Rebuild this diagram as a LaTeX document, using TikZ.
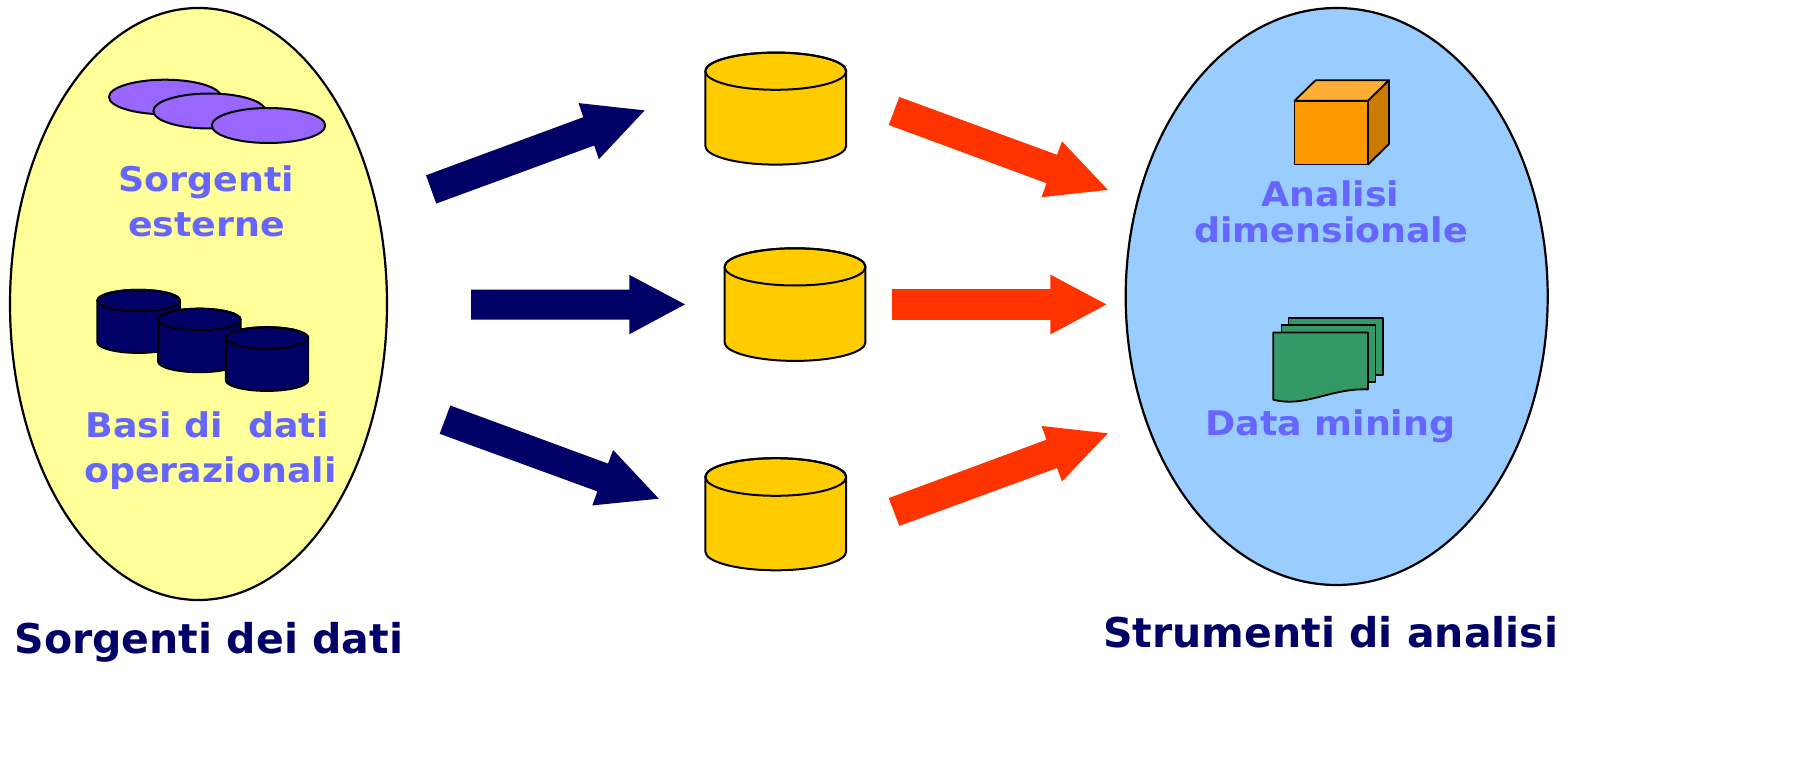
\documentclass[tikz,border=0pt]{standalone}
\usepackage{fontspec}
\setmainfont{DejaVu Sans}
\newfontfamily\lblfont{DejaVu Sans}[FakeStretch=1.07]
\usetikzlibrary{shapes.geometric}
\definecolor{paleyellow}{HTML}{FFFF99}
\definecolor{paleblue}{HTML}{99CCFF}
\definecolor{lilac}{HTML}{9966FF}
\definecolor{navy}{HTML}{000066}
\definecolor{lbl}{HTML}{6666FF}
\definecolor{gold}{HTML}{FFCC00}
\definecolor{redorange}{HTML}{FF3300}
\definecolor{cubefront}{HTML}{FF9900}
\definecolor{cubetop}{HTML}{FFAD33}
\definecolor{cubeside}{HTML}{CC7A00}
\definecolor{docgreen}{HTML}{339966}
\newcommand{\cylshape}[6]{% cx, top cy, bottom cy, rx, ry, colour
  \filldraw[fill=#6] ({#1-#4},#2) -- ({#1-#4},#3)
    arc[start angle=180,end angle=0,x radius=#4,y radius=#5]
    -- ({#1+#4},#2)
    arc[start angle=0,end angle=-180,x radius=#4,y radius=#5] -- cycle;
  \draw ({#1},#2) ellipse[x radius=#4,y radius=#5];
}
\begin{document}
\begin{tikzpicture}[x=1pt,y=-1pt,line join=round,
  bigell/.style={ellipse,draw=black,line width=2.2pt,inner sep=0pt},
  inlabel/.style={inner sep=0pt,anchor=base,text=lbl,font=\lblfont\bfseries\fontsize{34}{40}\selectfont},
  outlabel/.style={inner sep=0pt,anchor=base,text=navy,font=\bfseries\fontsize{41}{48}\selectfont},
  navyarrow/.style={fill=navy},
  redarrow/.style={fill=redorange}]
\fill[white] (0,0) rectangle (1795,759);
\useasboundingbox (0,0) rectangle (1795,759);

% big ellipses
\node[bigell,fill=paleyellow,minimum width=377pt,minimum height=592pt] (src) at (198.5,304) {};
\node[bigell,fill=paleblue,minimum width=422pt,minimum height=577pt] (tools) at (1336.7,296.5) {};

% external sources (purple discs)
\begin{scope}[line width=2pt]
\filldraw[fill=lilac] (165,97) ellipse[x radius=56,y radius=17.3];
\filldraw[fill=lilac] (209.4,111) ellipse[x radius=56,y radius=17.5];
\filldraw[fill=lilac] (268.5,125.5) ellipse[x radius=56.7,y radius=17.5];
\end{scope}

% operational databases (navy cylinders)
\begin{scope}[line width=2pt]
\cylshape{138.6}{300.5}{342.2}{41.3}{10.7}{navy}
\cylshape{199.3}{319.4}{361.5}{41.2}{10.7}{navy}
\cylshape{267}{337.9}{380.2}{41.2}{10.7}{navy}
\end{scope}

% left labels
\node[inlabel] (se1) at (206.4,191.4) {Sorgenti};
\node[inlabel] (se2) at (206.7,236.6) {esterne};
\node[inlabel] (bd1) at (207.1,437.6) {Basi di~ dati};
\node[inlabel] (bd2) at (210.4,482) {operazionali};

% navy arrows
\fill[navyarrow] (426.0,175.3) -- (583.3,117.2) -- (578.6,103.1) -- (644.7,110.4) -- (598.9,159.2) -- (594.2,145.5) -- (436.2,203.6) -- cycle;
\fill[navyarrow] (471,289.5) -- (629.4,289.5) -- (629.4,274.9) -- (685,304.4) -- (629.4,334.2) -- (629.4,319.6) -- (471,319.6) -- cycle;
\fill[navyarrow] (450.3,405.5) -- (608,463.6) -- (613.1,449.9) -- (658.8,498.7) -- (592.3,505.4) -- (597.4,491.4) -- (439.7,433.8) -- cycle;

% data marts (gold cylinders)
\begin{scope}[line width=2pt]
\cylshape{775.75}{71.2}{146}{70.45}{18.6}{gold}
\cylshape{795}{266.9}{342.3}{70.45}{18.6}{gold}
\cylshape{775.75}{477}{551.5}{70.45}{18.8}{gold}
\end{scope}

% red arrows
\fill[redarrow] (899.3,97.0) -- (1057,154.8) -- (1062,141.4) -- (1107.9,189.9) -- (1041.5,197.2) -- (1046.5,183.2) -- (888.7,125.0) -- cycle;
\fill[redarrow] (892.2,289.2) -- (1050.3,289.2) -- (1050.3,274.6) -- (1106.4,304.4) -- (1050.3,334.5) -- (1050.3,319.9) -- (892.2,319.9) -- cycle;
\fill[redarrow] (888.7,498.1) -- (1046.5,439.7) -- (1041.5,426) -- (1107.9,433.3) -- (1062,481.5) -- (1057,468) -- (899.3,525.9) -- cycle;

% cube
\begin{scope}[line width=1.8pt]
\filldraw[fill=cubefront] (1294.5,100.8) rectangle (1368,164.5);
\filldraw[fill=cubetop] (1294.5,100.8) -- (1315.5,80.3) -- (1389,80.3) -- (1368,100.8) -- cycle;
\filldraw[fill=cubeside] (1368,100.8) -- (1389,80.3) -- (1389,144) -- (1368,164.5) -- cycle;
\end{scope}

% document stack
\begin{scope}[line width=1.8pt]
\filldraw[fill=docgreen] (1288.4,317.9) rectangle (1383.3,374.8);
\filldraw[fill=docgreen] (1281.4,325.2) rectangle (1375.5,382.1);
\filldraw[fill=docgreen] (1273.2,332.5) -- (1367.9,332.5) -- (1367.9,389.4)
  .. controls (1330,388) and (1305,408) .. (1273.2,399.7) -- cycle;
\end{scope}

% right labels
\node[inlabel] (ad1) at (1330.3,207) {Analisi};
\node[inlabel] (ad2) at (1331.2,242.7) {dimensionale};
\node[inlabel] (dm) at (1330.3,435.5) {Data mining};

% bottom titles
\node[outlabel] (t1) at (208.9,653.8) {Sorgenti dei dati};
\node[outlabel] (t2) at (1330.8,647.4) {Strumenti di analisi};
\end{tikzpicture}
\end{document}
